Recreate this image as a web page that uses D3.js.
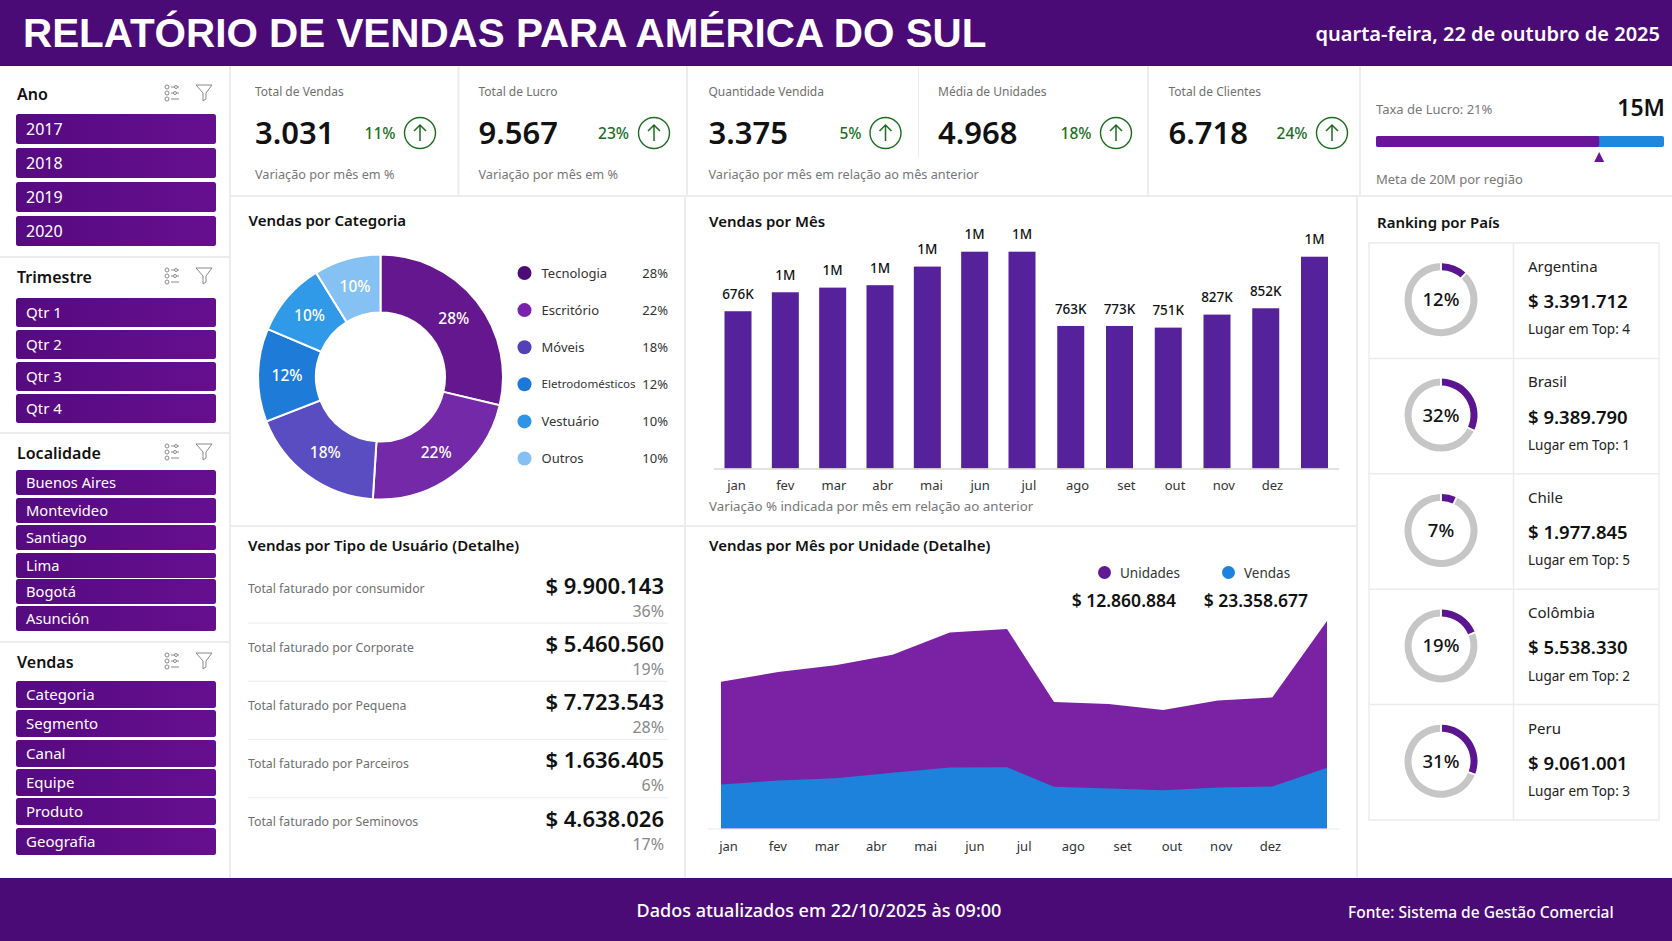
<!DOCTYPE html>
<html lang="pt">
<head>
<meta charset="utf-8">
<title>Relatório de Vendas</title>
<script src="https://cdn.jsdelivr.net/npm/d3@7"></script>
<style>
  body { margin: 0; background: #fff; }
  svg { display: block; }
  text { font-family: "Noto Sans", sans-serif; }
</style>
</head>
<body>
<div id="chart"></div>
<script>
// slicers
const anos = ["2017", "2018", "2019", "2020"];
const trimestres = ["Qtr 1", "Qtr 2", "Qtr 3", "Qtr 4"];
const localidades = ["Buenos Aires", "Montevideo", "Santiago", "Lima", "Bogotá", "Asunción"];
const vendasOpcoes = ["Categoria", "Segmento", "Canal", "Equipe", "Produto", "Geografia"];

// KPIs
const kpiLabels = ["Total de Vendas", "Total de Lucro", "Quantidade Vendida", "Média de Unidades", "Total de Clientes"];
const kpiValues = ["3.031", "9.567", "3.375", "4.968", "6.718"];
const kpiPcts = ["11%", "23%", "5%", "18%", "24%"];
const kpiNotes = ["Variação por mês em %", "Variação por mês em %", "Variação por mês em relação ao mês anterior", "", ""];
const lucroAtual = 15.5;
const lucroMeta = 20;

// donut: slice sizes as drawn in the source, labels as printed there
const categorias = ["Tecnologia", "Escritório", "Móveis", "Eletrodomésticos", "Vestuário", "Outros"];
const categoriaFatia = [28.7, 22.3, 18.1, 12.3, 9.8, 8.8];
const categoriaPct = [28, 22, 18, 12, 10, 10];
const categoriaCores = ["#64178f", "#7329a8", "#5a4cc1", "#1f7bd8", "#319ae8", "#86c1f4"];
const legendaCores = ["#4c0c78", "#7b22ad", "#5440b8", "#1b78d8", "#2f93e6", "#85c0f5"];

// vendas por mes (the last bar has no month label in the source)
const meses = ["jan", "fev", "mar", "abr", "mai", "jun", "jul", "ago", "set", "out", "nov", "dez"];
const barValues = [845, 947, 972, 985, 1085, 1165, 1165, 766, 766, 757, 827, 861, 1138];
const barLabels = ["676K", "1M", "1M", "1M", "1M", "1M", "1M", "763K", "773K", "751K", "827K", "852K", "1M"];

// tipo de usuario
const tipos = ["consumidor", "Corporate", "Pequena", "Parceiros", "Seminovos"];
const tipoValores = ["$ 9.900.143", "$ 5.460.560", "$ 7.723.543", "$ 1.636.405", "$ 4.638.026"];
const tipoPct = ["36%", "19%", "28%", "6%", "17%"];

// area
const unidades = [1467, 1563, 1630, 1737, 1957, 1993, 1263, 1243, 1183, 1280, 1310, 2073];
const vendas = [440, 480, 503, 557, 610, 613, 417, 400, 383, 410, 420, 607];

// ranking
const paises = ["Argentina", "Brasil", "Chile", "Colômbia", "Peru"];
const paisValores = ["$ 3.391.712", "$ 9.389.790", "$ 1.977.845", "$ 5.538.330", "$ 9.061.001"];
const paisPct = [12, 32, 7, 19, 31];
const paisTop = [4, 1, 5, 2, 3];

const width = 1672, height = 941;
const purpleDark = "#4b0b76";
const grid = "#ececec";

const svg = d3.select("#chart").append("svg")
  .attr("width", width)
  .attr("height", height);

const defs = svg.append("defs");
const btnGrad = defs.append("linearGradient").attr("id", "btn").attr("x1", 0).attr("x2", 1);
btnGrad.append("stop").attr("offset", "0%").attr("stop-color", "#560a80");
btnGrad.append("stop").attr("offset", "100%").attr("stop-color", "#660f90");

function label(g, x, y, txt, size, fill, weight, anchor) {
  return g.append("text")
    .attr("x", x)
    .attr("y", y)
    .attr("dy", "0.35em")
    .attr("text-anchor", anchor || "start")
    .attr("font-size", size)
    .attr("font-weight", weight || 400)
    .attr("fill", fill)
    .text(txt);
}

function hline(x1, x2, y, color, w) {
  svg.append("line").attr("x1", x1).attr("x2", x2).attr("y1", y).attr("y2", y)
    .attr("stroke", color || grid).attr("stroke-width", w || 2);
}
function vline(x, y1, y2, color, w) {
  svg.append("line").attr("x1", x).attr("x2", x).attr("y1", y1).attr("y2", y2)
    .attr("stroke", color || grid).attr("stroke-width", w || 2);
}

// panel lines
vline(230, 66, 878);
hline(230, 1672, 196);
vline(458.5, 66, 196);
vline(687, 66, 196);
vline(1148, 66, 196);
vline(1360, 66, 196);
vline(918.5, 66, 158, grid, 1);
vline(685, 196, 878);
vline(1357, 196, 878);
hline(230, 1357, 526);
[257, 433, 642].forEach(y => hline(0, 230, y));

// header and footer
svg.append("rect").attr("width", width).attr("height", 66).attr("fill", purpleDark);
svg.append("rect").attr("y", 878).attr("width", width).attr("height", 63).attr("fill", purpleDark);
label(svg, 23, 33, "RELATÓRIO DE VENDAS PARA AMÉRICA DO SUL", 40.4, "#fff", 700)
  .style("font-family", "'Liberation Sans', sans-serif");
label(svg, 1660, 34, "quarta-feira, 22 de outubro de 2025", 20, "#fff", 600, "end");
label(svg, 819, 911, "Dados atualizados em 22/10/2025 às 09:00", 18, "#fff", 500, "middle");
label(svg, 1348, 913, "Fonte: Sistema de Gestão Comercial", 15.5, "#fff", 500);

// slicers
function slicer(title, items, titleY, tops, btnH, size) {
  const g = svg.append("g");
  label(g, 17, titleY, title, 16, "#111", 600);

  // settings icon
  const ic = g.append("g").attr("transform", `translate(172,${titleY - 1})`)
    .attr("fill", "none").attr("stroke", "#8a8a8a").attr("stroke-width", 1);
  [-6, 0, 6].forEach((dy, i) => {
    ic.append("circle").attr("cx", -5).attr("cy", dy).attr("r", 2);
    ic.append("line").attr("x1", -1).attr("x2", 7).attr("y1", dy).attr("y2", dy);
    ic.append("circle").attr("cx", i === 1 ? 3 : 4).attr("cy", dy).attr("r", i === 2 ? 0 : 1.5).attr("fill", "#fff");
  });
  // funnel icon
  g.append("path").attr("transform", `translate(204,${titleY - 1})`)
    .attr("d", "M-8,-8 H8 L2,0 V6 L-1,8 V0 Z")
    .attr("fill", "none").attr("stroke", "#8a8a8a").attr("stroke-width", 1);

  const btn = g.selectAll(".btn").data(items).enter().append("g").attr("class", "btn");
  btn.append("rect")
    .attr("x", 16)
    .attr("y", (d, i) => tops[i])
    .attr("width", 200)
    .attr("height", btnH)
    .attr("rx", 2.5)
    .attr("fill", "url(#btn)");
  btn.append("text")
    .attr("x", 26)
    .attr("y", (d, i) => tops[i] + btnH / 2)
    .attr("dy", "0.35em")
    .attr("font-size", size)
    .attr("fill", "#fff")
    .text(d => d);
}
slicer("Ano", anos, 94, [114, 148, 182, 216], 30, 16);
slicer("Trimestre", trimestres, 277, [298, 330, 362, 394], 29, 15);
slicer("Localidade", localidades, 453, [470, 498, 525, 553, 579, 606], 25, 14.7);
slicer("Vendas", vendasOpcoes, 662, [681, 710, 740, 769, 798, 828], 27, 15);

// KPI cards
const kpiX = [255, 478.5, 708.5, 938, 1168.5];
const kpiPctRight = [395.5, 629, 861.5, 1091.5, 1307.5];
const kpiCircle = [420, 654, 885.5, 1116, 1332];
kpiLabels.forEach((name, i) => {
  const g = svg.append("g");
  label(g, kpiX[i], 92, name, 12, "#6f6f6f");
  label(g, kpiX[i], 133, kpiValues[i], 31, "#111", 600);
  label(g, kpiPctRight[i], 134, kpiPcts[i], 15.5, "#1a6e1e", 500, "end");
  g.append("circle").attr("cx", kpiCircle[i]).attr("cy", 133).attr("r", 15.5)
    .attr("fill", "none").attr("stroke", "#1a6e1e").attr("stroke-width", 1.4);
  g.append("path").attr("transform", `translate(${kpiCircle[i]},133)`)
    .attr("d", "M0,8 V-8 M-6,-2 L0,-8 L6,-2")
    .attr("fill", "none").attr("stroke", "#1a6e1e").attr("stroke-width", 1.5);
  if (kpiNotes[i]) label(g, kpiX[i], 175, kpiNotes[i], 12.7, "#777");
});

// meta bar
const metaX = d3.scaleLinear().domain([0, lucroMeta]).range([1376, 1664]);
label(svg, 1376, 109, "Taxa de Lucro: 21%", 13, "#777");
label(svg, 1665, 108, "15M", 23, "#111", 600, "end");
svg.append("rect").attr("x", metaX(0)).attr("y", 136).attr("width", metaX(lucroMeta) - metaX(0)).attr("height", 11)
  .attr("rx", 2).attr("fill", "#1f87dc");
svg.append("rect").attr("x", metaX(0)).attr("y", 136).attr("width", metaX(lucroAtual) - metaX(0)).attr("height", 11)
  .attr("rx", 2).attr("fill", "#6a1599");
svg.append("path").attr("transform", `translate(${metaX(lucroAtual)},0)`)
  .attr("d", "M-5,162 L0,152 L5,162 Z").attr("fill", "#6a1599");
label(svg, 1376, 179.5, "Meta de 20M por região", 13, "#777");

// donut
label(svg, 248.5, 221, "Vendas por Categoria", 15, "#111", 600);
const donut = svg.append("g").attr("transform", "translate(380.5,377)");
const pie = d3.pie().sort(null).value(d => d);
const arc = d3.arc().innerRadius(64.5).outerRadius(122.5);
const slices = donut.selectAll(".slice").data(pie(categoriaFatia)).enter().append("g").attr("class", "slice");
slices.append("path")
  .attr("d", arc)
  .attr("fill", (d, i) => categoriaCores[i])
  .attr("stroke", "#fff")
  .attr("stroke-width", 2);
slices.append("text")
  .attr("transform", d => `translate(${arc.centroid(d)})`)
  .attr("dy", "0.35em")
  .attr("text-anchor", "middle")
  .attr("font-size", 15.5)
  .attr("font-weight", 500)
  .attr("fill", "#fff")
  .text((d, i) => categoriaPct[i] + "%");

const legendY = d3.scalePoint().domain(categorias).range([273, 458.5]);
const legend = svg.selectAll(".cat").data(categorias).enter().append("g").attr("class", "cat")
  .attr("transform", d => `translate(0,${legendY(d)})`);
legend.append("circle").attr("cx", 524.5).attr("r", 7).attr("fill", (d, i) => legendaCores[i]);
legend.append("text").attr("x", 541.5).attr("dy", "0.35em")
  .attr("font-size", d => d.length > 12 ? 11.6 : 13)
  .attr("fill", "#333")
  .text(d => d);
legend.append("text").attr("x", 668).attr("dy", "0.35em").attr("text-anchor", "end").attr("font-size", 13).attr("fill", "#333")
  .text((d, i) => categoriaPct[i] + "%");

// vendas por mes: the source spaces the bars a little tighter before jul
label(svg, 709, 222, "Vendas por Mês", 15, "#111", 600);
const xBar = d3.scaleLinear().domain([0, 6, 12]).range([738, 1022, 1314.5]);
const barW = 27;
const yBar = d3.scaleLinear().domain([0, 1165]).range([468.5, 251.7]);
svg.selectAll(".bar").data(barValues).enter().append("rect").attr("class", "bar")
  .attr("x", (d, i) => xBar(i) - barW / 2)
  .attr("y", d => yBar(d))
  .attr("width", barW)
  .attr("height", d => yBar(0) - yBar(d))
  .attr("fill", "#55229c");
svg.selectAll(".barlabel").data(barValues).enter().append("text").attr("class", "barlabel")
  .attr("x", (d, i) => xBar(i))
  .attr("y", d => yBar(d) - 17)
  .attr("dy", "0.35em")
  .attr("text-anchor", "middle")
  .attr("font-size", 13.5)
  .attr("font-weight", 500)
  .attr("fill", "#111")
  .text((d, i) => barLabels[i]);

function monthAxis(y, range) {
  const scale = d3.scalePoint().domain(meses).range(range);
  const ax = svg.append("g").attr("transform", `translate(0,${y})`)
    .call(d3.axisBottom(scale).tickSize(0).tickPadding(0));
  ax.select(".domain").remove();
  ax.selectAll("text").attr("font-size", 13).attr("fill", "#333").attr("y", 0).attr("dy", "0.35em")
    .style("font-family", "'Noto Sans', sans-serif");
  return scale;
}
hline(714, 1339, 469, "#d8d8d8", 1.5);
monthAxis(485, [736, 1272]);
label(svg, 709, 506, "Variação % indicada por mês em relação ao anterior", 13.3, "#777");

// tipo de usuario
label(svg, 248, 546, "Vendas por Tipo de Usuário (Detalhe)", 15, "#111", 600);
const rowY = d3.scalePoint().domain(tipos).range([586, 819]);
const rows = svg.selectAll(".tipo").data(tipos).enter().append("g").attr("class", "tipo")
  .attr("transform", d => `translate(0,${rowY(d)})`);
rows.append("text").attr("x", 248).attr("y", 3).attr("dy", "0.35em").attr("font-size", 12.3).attr("fill", "#6f6f6f")
  .text(d => "Total faturado por " + d);
rows.append("text").attr("x", 664).attr("dy", "0.35em").attr("text-anchor", "end").attr("font-size", 22).attr("font-weight", 600).attr("fill", "#111")
  .text((d, i) => tipoValores[i]);
rows.append("text").attr("x", 664).attr("y", 25).attr("dy", "0.35em").attr("text-anchor", "end").attr("font-size", 16).attr("fill", "#888")
  .text((d, i) => tipoPct[i]);
rows.filter((d, i) => i < tipos.length - 1).append("line")
  .attr("x1", 248).attr("x2", 668).attr("y1", 37).attr("y2", 37).attr("stroke", grid);

// area: vertices are not evenly spaced in the source
label(svg, 709, 546, "Vendas por Mês por Unidade (Detalhe)", 15, "#111", 600);
const xArea = d3.scaleLinear().domain([0, 5, 6, 11]).range([721, 1007, 1054, 1327]);
const yArea = d3.scaleLinear().domain([0, 2073]).range([828.5, 621]);
function drawArea(values, color) {
  const a = d3.area()
    .x((d, i) => xArea(i))
    .y0(yArea(0))
    .y1(d => yArea(d));
  svg.append("path").datum(values).attr("d", a).attr("fill", color);
}
drawArea(unidades, "#7a22a3");
drawArea(vendas, "#1c82db");
hline(708, 1339, 829, "#e8e8e8", 1);
monthAxis(846.5, [728, 1270]);

svg.append("circle").attr("cx", 1104.5).attr("cy", 572.5).attr("r", 6.5).attr("fill", "#5f1a94");
label(svg, 1120, 573, "Unidades", 13.5, "#333");
svg.append("circle").attr("cx", 1228.5).attr("cy", 572.5).attr("r", 6.5).attr("fill", "#1c82db");
label(svg, 1244, 573, "Vendas", 13.5, "#333");
label(svg, 1176, 601, "$ 12.860.884", 17.5, "#111", 600, "end");
label(svg, 1308, 601, "$ 23.358.677", 17.5, "#111", 600, "end");

// ranking
label(svg, 1377, 223, "Ranking por País", 15, "#111", 600);
const rankY = d3.scaleBand().domain(paises).range([243, 820]);
svg.append("rect").attr("x", 1369).attr("y", 243).attr("width", 290).attr("height", 577)
  .attr("fill", "none").attr("stroke", grid).attr("stroke-width", 1.5);
vline(1513.5, 243, 820, grid, 1.5);
const rank = svg.selectAll(".pais").data(paises).enter().append("g").attr("class", "pais")
  .attr("transform", d => `translate(0,${rankY(d)})`);
rank.filter((d, i) => i > 0).append("line")
  .attr("x1", 1369).attr("x2", 1659).attr("stroke", grid).attr("stroke-width", 1.5);
const gauge = rank.append("g")
  .attr("transform", `translate(1441,${rankY.bandwidth() / 2 - 1})`);
const ringArc = d3.arc().innerRadius(29.5).outerRadius(36.5).padAngle(0.04);
gauge.append("path")
  .attr("d", (d, i) => ringArc(pie([paisPct[i], 100 - paisPct[i]])[1]))
  .attr("fill", "#c6c6c6");
gauge.append("path")
  .attr("d", (d, i) => ringArc(pie([paisPct[i], 100 - paisPct[i]])[0]))
  .attr("fill", "#5c1590");
gauge.append("text")
  .attr("dy", "0.35em").attr("text-anchor", "middle").attr("font-size", 18.5).attr("font-weight", 500).attr("fill", "#111")
  .text((d, i) => paisPct[i] + "%");
const mid = rankY.bandwidth() / 2;
rank.append("text").attr("x", 1528).attr("y", mid - 34).attr("dy", "0.35em").attr("font-size", 15).attr("fill", "#222").text(d => d);
rank.append("text").attr("x", 1528).attr("y", mid + 1).attr("dy", "0.35em").attr("font-size", 18.5).attr("font-weight", 600).attr("fill", "#111")
  .text((d, i) => paisValores[i]);
rank.append("text").attr("x", 1528).attr("y", mid + 29).attr("dy", "0.35em").attr("font-size", 13.5).attr("fill", "#222")
  .text((d, i) => "Lugar em Top: " + paisTop[i]);
</script>
</body>
</html>
